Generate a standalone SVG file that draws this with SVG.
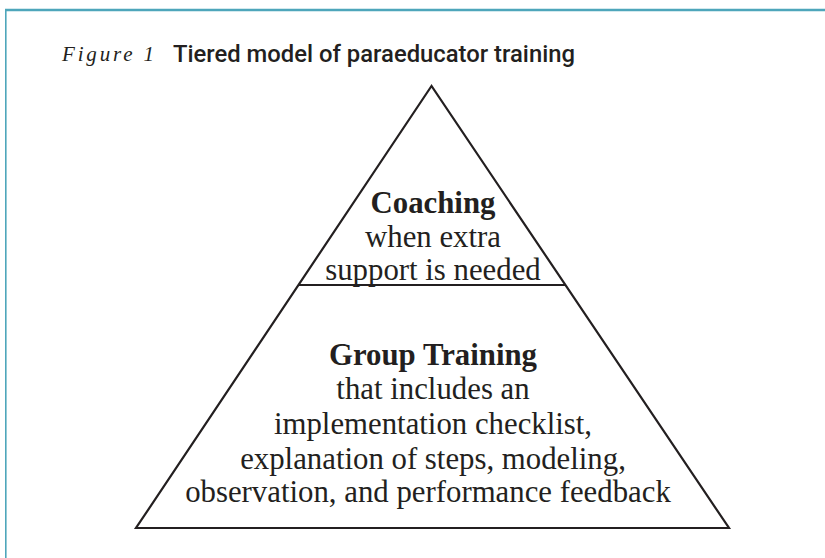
<svg xmlns="http://www.w3.org/2000/svg" width="825" height="558" viewBox="0 0 825 558">
<style>
.frame{stroke:#4ea6bb;fill:none}
.tri{stroke:#231f20;stroke-width:2.2;fill:none;stroke-linejoin:miter}
.t{font-family:"Liberation Serif","Times New Roman",serif;fill:#231f20;text-anchor:middle;font-size:30.8px}
.b{font-weight:bold}
</style>
<rect width="825" height="558" fill="#fff"/>
<line class="frame" x1="5" y1="10" x2="825" y2="10" stroke-width="2.5"/>
<line class="frame" x1="5.8" y1="9" x2="5.8" y2="558" stroke-width="1.6"/>
<g id="title">
<text x="62" y="61" font-family="Liberation Serif,serif" font-style="italic" font-size="21" fill="#231f20" textLength="92" lengthAdjust="spacing">Figure 1</text>
<text x="173" y="62" font-family="Roboto,Liberation Sans,sans-serif" font-weight="500" font-size="24.5" fill="#231f20" textLength="402" lengthAdjust="spacingAndGlyphs">Tiered model of paraeducator training</text>
</g>
<g id="connectors">
<polygon class="tri" points="431.5,86 136,528 729,528"/>
<line class="tri" x1="298" y1="285" x2="565" y2="285"/>
</g>
<g id="coaching">
<text class="t b" x="433" y="213">Coaching</text>
<text class="t" x="433" y="247">when extra</text>
<text class="t" x="433" y="280">support is needed</text>
</g>
<g id="group-training">
<text class="t b" x="433" y="365">Group Training</text>
<text class="t" x="433" y="399">that includes an</text>
<text class="t" x="433" y="434">implementation checklist,</text>
<text class="t" x="433" y="469">explanation of steps, modeling,</text>
<text class="t" x="428" y="502">observation, and performance feedback</text>
</g>
</svg>
